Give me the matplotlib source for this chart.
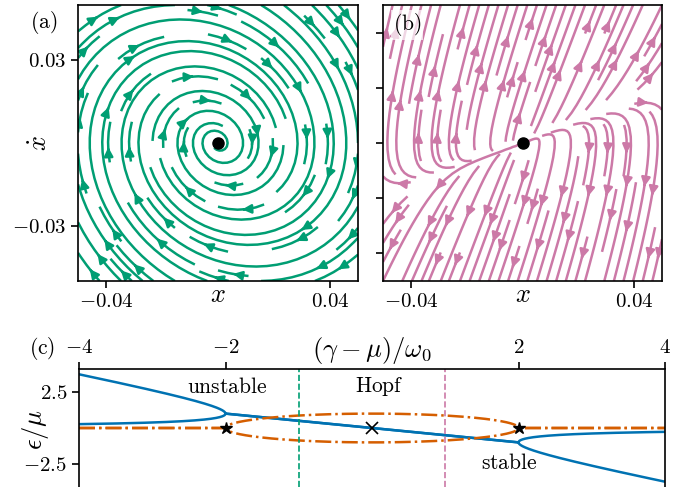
import matplotlib
matplotlib.use('Agg')
import matplotlib.pyplot as plt
import matplotlib.transforms as mtransforms
import numpy as np

plt.rcParams['mathtext.fontset'] = 'cm'
plt.rcParams['font.family'] = 'serif'
plt.rcParams['font.serif'] = ['cmr10', 'DejaVu Serif']
plt.rcParams['axes.unicode_minus'] = False
plt.rcParams['font.size'] = 15.5
plt.rcParams['xtick.labelsize'] = 15
plt.rcParams['ytick.labelsize'] = 15
plt.rcParams['axes.linewidth'] = 1.2
label_size = 19

# colours (colorblind palette)
green = '#009E73'
pink = '#CC79A7'
blue = '#0072B2'
orange = '#D55E00'

# phase portrait models: dx/dt = v, dv/dt = coeff_x * x + coeff_v * v
spiral_coeffs = [-1.0, -0.3]       # panel (a): focus
node_rates = [0.38, 2.8]           # panel (b): node, slow / fast rates
node_coeffs = [-node_rates[0] * node_rates[1], node_rates[0] + node_rates[1]]
phase_lim = [-0.05, 0.05]

# bifurcation diagram: eigenvalues of [[0, 1], [-1, -p]]
detuning = np.linspace(-4, 4, 1601)
hopf_point = [0.0]
branch_points = [-2.0, 2.0]
boundary_a = -1.0
boundary_b = 1.0
region_labels = ['unstable', 'Hopf', 'stable']
region_pos = [(-1.97, 2.85), (0.1, 2.85), (1.87, -2.45)]

fig = plt.figure(figsize=(6.79, 4.87), dpi=100)
ax_a = fig.add_axes([78/679, 1 - 281/487, 280/679, 276/487])
ax_b = fig.add_axes([383/679, 1 - 281/487, 279/679, 276/487])
ax_c = fig.add_axes([79/679, 0, 586/679, 118/487])

g = np.linspace(phase_lim[0], phase_lim[1], 300)
X, V = np.meshgrid(g, g)

# (a)
ax_a.streamplot(X, V, V, spiral_coeffs[0] * X + spiral_coeffs[1] * V,
                color=green, linewidth=1.8, density=0.9, arrowsize=1.3)
ax_a.plot(0, 0, 'o', color='k', ms=8, zorder=5)
ax_a.set_xlim(phase_lim)
ax_a.set_ylim(phase_lim)
ax_a.set_xticks([-0.04, 0.04])
ax_a.set_xticklabels([r'$-0.04$', r'$0.04$'])
ax_a.set_yticks([-0.03, 0.03])
ax_a.set_yticklabels([r'$-0.03$', r'$0.03$'])
ax_a.text(0.5, -0.05, r'$x$', transform=ax_a.transAxes, ha='center', va='center',
          fontsize=label_size)
ax_a.text(-0.136, 0.5, r'$\dot{x}$', transform=ax_a.transAxes, ha='center',
          va='center', rotation=90, fontsize=label_size)
fig.text(44/679, 1 - 23/487, r'$\mathrm{(a)}$', ha='center', va='center')

# (b)
ax_b.streamplot(X, V, V, node_coeffs[0] * X + node_coeffs[1] * V,
                color=pink, linewidth=1.8, density=1.0, arrowsize=1.3)
ax_b.plot(0, 0, 'o', color='k', ms=8, zorder=5)
ax_b.set_xlim(phase_lim)
ax_b.set_ylim(phase_lim)
ax_b.set_xticks([-0.04, 0.04])
ax_b.set_xticklabels([r'$-0.04$', r'$0.04$'])
ax_b.set_yticks([-0.04, -0.02, 0, 0.02, 0.04])
ax_b.set_yticklabels([])
ax_b.text(0.5, -0.05, r'$x$', transform=ax_b.transAxes, ha='center', va='center',
          fontsize=label_size)
ax_b.text(0.086, 0.928, r'$\mathrm{(b)}$', transform=ax_b.transAxes, ha='center',
          va='center', zorder=10,
          bbox=dict(facecolor='white', edgecolor='none', alpha=0.7, pad=1))

for ax in (ax_a, ax_b, ax_c):
    ax.tick_params(length=5, width=1.2)

# (c)
eig = np.array([np.linalg.eigvals([[0.0, 1.0], [-1.0, -p]]) for p in detuning])
re = np.sort(eig.real, axis=1)
im = np.sort(eig.imag, axis=1)
ax_c.plot(detuning, re[:, 1], color=blue, lw=1.8)
ax_c.plot(detuning, re[:, 0], color=blue, lw=1.8)
ax_c.plot(detuning, im[:, 1], color=orange, lw=1.8, ls='-.')
ax_c.plot(detuning, im[:, 0], color=orange, lw=1.8, ls='-.')
ax_c.axvline(boundary_a, color=green, ls='--', lw=1.2)
ax_c.axvline(boundary_b, color=pink, ls='--', lw=1.2)
ax_c.plot(branch_points, [0, 0], '*', color='k', ms=9, zorder=5)
ax_c.plot(hopf_point, [0], 'x', color='k', ms=8, mew=1.2, zorder=5)
for lab, (px, py) in zip(region_labels, region_pos):
    ax_c.text(px, py, r'$\mathrm{%s}$' % lab, ha='center', va='center')
ax_c.set_xlim(-4, 4)
ax_c.set_ylim(-4.1, 4.1)
ax_c.xaxis.tick_top()
ax_c.set_xticks([-4, -2, 2, 4])
ax_c.set_xticklabels([r'$-4$', r'$-2$', r'$2$', r'$4$'])
ax_c.set_yticks([-2.5, 2.5])
ax_c.set_yticklabels([r'$-2.5$', r'$2.5$'])
ax_c.spines['bottom'].set_visible(False)
trans = mtransforms.blended_transform_factory(ax_c.transData, ax_c.transAxes)
ax_c.text(0, 1.161, r'$(\gamma-\mu)/\omega_0$', transform=trans, ha='center',
          va='center', fontsize=label_size)
ax_c.text(-0.075, 0.49, r'$\epsilon/\mu$', transform=ax_c.transAxes, ha='center',
          va='center', rotation=90, fontsize=label_size)
fig.text(42/679, 1 - 349/487, r'$\mathrm{(c)}$', ha='center', va='center')

fig.savefig('out.png', dpi=100)
